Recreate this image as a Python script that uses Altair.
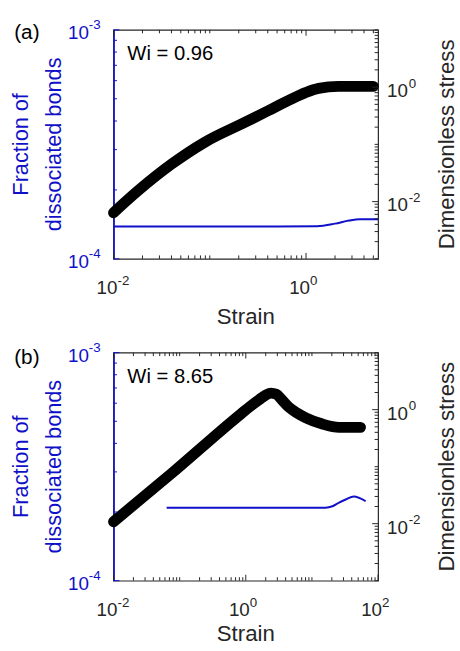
import altair as alt
import pandas as pd

# ---------------- values ----------------
# Panel (a): Wi = 0.96
a_stress_strain = [0.01, 0.018, 0.040, 0.088, 0.228, 0.443, 0.66, 0.987, 1.35, 2.17, 5.0]
a_stress = [0.0064, 0.0155, 0.045, 0.108, 0.239, 0.418, 0.585, 0.80, 0.95, 1.03, 1.03]
a_frac_strain = [0.01, 0.5, 1.3, 2.0, 2.8, 3.6, 5.6]
a_frac = [1.384e-4, 1.384e-4, 1.388e-4, 1.425e-4, 1.47e-4, 1.49e-4, 1.49e-4]

# Panel (b): Wi = 8.65
b_stress_strain = [0.01, 0.0755, 0.80, 1.2, 1.6, 2.0, 2.4, 2.9, 3.5, 4.5, 6.0, 8.1, 14.4, 25.6, 54.3]
b_stress = [0.0108, 0.0762, 0.80, 1.17, 1.5, 1.8, 1.95, 1.86, 1.5, 1.1, 0.87, 0.72, 0.56, 0.49, 0.49]
b_frac_strain = [0.0635, 5.0, 16.0, 20.4, 25.7, 32.4, 43.0, 65.0]
b_frac = [2.09e-4, 2.09e-4, 2.09e-4, 2.12e-4, 2.20e-4, 2.27e-4, 2.34e-4, 2.23e-4]

# axis ranges and tick labels
a_xmax = 5.6
b_xmax = 100.0
a_x_labels = [0.01, 1.0]
a_x_exps = ["-2", "0"]
b_x_labels = [0.01, 1.0, 100.0]
b_x_exps = ["-2", "0", "2"]
frac_domain = [1e-4, 1e-3]
frac_labels = [1e-4, 1e-3]
frac_exps = ["-4", "-3"]
stress_domain = [1e-3, 10.0]
stress_labels = [1e-2, 1.0]
stress_exps = ["-2", "0"]


def log_minor(lo, hi, majors):
    out = []
    e = lo
    while e < hi:
        for m in range(1, 10):
            v = round(m * 10.0 ** e, 10)
            if v not in majors:
                out.append(v)
        e += 1
    return out


BLUE = "#1010c8"
DARK = "#262626"
FONT = "Liberation Sans"
W = 268
MAJ = 6
MIN = 3.5


def txt(s, x, y, size, color=DARK, align="left", angle=0, baseline="alphabetic"):
    kw = dict(font=FONT, fontSize=size, color=color, align=align, baseline=baseline)
    if angle:
        kw["angle"] = angle
    return alt.Chart(pd.DataFrame({"t": [s]})).mark_text(**kw).encode(
        text="t:N", x=alt.value(x), y=alt.value(y))


def panel(tag, wi, H, xmax, s_strain, s_val, f_strain, f_val,
          x_lab, x_exp, tag_y, strain_y):
    xs = alt.Scale(type="log", domain=[0.01, xmax], nice=False)
    yl = alt.Scale(type="log", domain=frac_domain, nice=False)
    yr = alt.Scale(type="log", domain=stress_domain, nice=False)
    X = lambda f: alt.X(f, scale=xs, axis=None)

    layers = []
    blue = alt.Chart(pd.DataFrame({"strain": f_strain, "frac": f_val})).mark_line(
        color=BLUE, strokeWidth=2, interpolate="monotone").encode(
        x=X("strain:Q"),
        y=alt.Y("frac:Q", scale=yl,
                axis=alt.Axis(orient="left", domain=True, domainColor=BLUE,
                              domainWidth=1.6, ticks=False, labels=False,
                              grid=False, title=None)))
    black = alt.Chart(pd.DataFrame({"strain": s_strain, "stress": s_val})).mark_line(
        color="black", strokeWidth=11, strokeCap="round", strokeJoin="round",
        interpolate="monotone").encode(
        x=X("strain:Q"), y=alt.Y("stress:Q", scale=yr, axis=None))
    layers += [blue, black]

    # x ticks (inside, bottom and top)
    lo_e = -2
    hi_e = 0 if xmax < 10 else 2
    x_minor = [v for v in log_minor(lo_e, hi_e + 1, x_lab) if v <= xmax]
    for vals, L in ((x_lab, MAJ), (x_minor, MIN)):
        d = pd.DataFrame({"v": vals})
        layers.append(alt.Chart(d).mark_rule(color=DARK, strokeWidth=1).encode(
            x=X("v:Q"), y=alt.value(H), y2=alt.value(H - L)))
        layers.append(alt.Chart(d).mark_rule(color=DARK, strokeWidth=1).encode(
            x=X("v:Q"), y=alt.value(0), y2=alt.value(L)))
    # left ticks (blue)
    fl_minor = log_minor(-4, -3, frac_labels)
    for vals, L in ((frac_labels, MAJ), (fl_minor, MIN)):
        d = pd.DataFrame({"v": vals})
        layers.append(alt.Chart(d).mark_rule(color=BLUE, strokeWidth=1).encode(
            y=alt.Y("v:Q", scale=yl, axis=None), x=alt.value(0), x2=alt.value(L)))
    # right ticks
    sr_major = stress_labels
    sr_minor = [v for v in log_minor(-3, 1, sr_major) if v not in sr_major] + [10.0]
    for vals, L in ((sr_major, MAJ), (sr_minor, MIN)):
        d = pd.DataFrame({"v": vals})
        layers.append(alt.Chart(d).mark_rule(color=DARK, strokeWidth=1).encode(
            y=alt.Y("v:Q", scale=yr, axis=None), x=alt.value(W), x2=alt.value(W - L)))

    # tick labels 10^n
    dx_ = pd.DataFrame({"v": x_lab, "b": ["10"] * len(x_lab), "e": x_exp})
    layers.append(alt.Chart(dx_).mark_text(font=FONT, fontSize=19, color=DARK, align="right",
                                           baseline="alphabetic", dx=4).encode(
        x=X("v:Q"), y=alt.value(H + 36), text="b:N"))
    layers.append(alt.Chart(dx_).mark_text(font=FONT, fontSize=13.5, color=DARK, align="left",
                                           baseline="alphabetic", dx=4).encode(
        x=X("v:Q"), y=alt.value(H + 26.5), text="e:N"))
    dl = pd.DataFrame({"v": frac_labels, "b": ["10"] * 2, "e": frac_exps})
    layers.append(alt.Chart(dl).mark_text(font=FONT, fontSize=19, color=BLUE, align="right",
                                          baseline="alphabetic", dy=9).encode(
        y=alt.Y("v:Q", scale=yl, axis=None), x=alt.value(-25), text="b:N"))
    layers.append(alt.Chart(dl).mark_text(font=FONT, fontSize=13.5, color=BLUE, align="left",
                                          baseline="alphabetic", dy=-0.5).encode(
        y=alt.Y("v:Q", scale=yl, axis=None), x=alt.value(-25), text="e:N"))
    dr = pd.DataFrame({"v": stress_labels, "b": ["10"] * 2, "e": stress_exps})
    layers.append(alt.Chart(dr).mark_text(font=FONT, fontSize=19, color=DARK, align="left",
                                          baseline="alphabetic", dy=10).encode(
        y=alt.Y("v:Q", scale=yr, axis=None), x=alt.value(W + 9), text="b:N"))
    layers.append(alt.Chart(dr).mark_text(font=FONT, fontSize=13.5, color=DARK, align="left",
                                          baseline="alphabetic", dy=0.5).encode(
        y=alt.Y("v:Q", scale=yr, axis=None), x=alt.value(W + 31), text="e:N"))

    # titles and annotations
    layers.append(txt("Strain", W / 2, H + strain_y, 22.5, align="center"))
    layers.append(txt("Fraction of", -86.5, H / 2, 22, color=BLUE, align="center", angle=270))
    layers.append(txt("dissociated bonds", -53, H / 2, 22, color=BLUE, align="center", angle=270))
    layers.append(txt("Dimensionless stress", W + 77, H / 2, 22.5, align="center", angle=270))
    layers.append(txt(tag, -100.6, tag_y, 21, color="black"))
    layers.append(txt(wi, 14, 31, 20.5, color="black"))

    return alt.layer(*layers).resolve_scale(y="independent").properties(width=W, height=H)


pa = panel("(a)", "Wi = 0.96", 232, a_xmax, a_stress_strain, a_stress, a_frac_strain, a_frac,
           a_x_labels, a_x_exps, 9.5, 66)
pb = panel("(b)", "Wi = 8.65", 231, b_xmax, b_stress_strain, b_stress, b_frac_strain, b_frac,
           b_x_labels, b_x_exps, 12, 61)

chart = alt.vconcat(pa, pb, spacing=95, bounds="flush").configure_view(
    stroke=DARK, strokeWidth=1.2).properties(
    padding={"left": 9, "top": 13, "right": 0, "bottom": 0}, background="white")

chart.save("out.html", embed_options={"renderer": "svg", "actions": False})
